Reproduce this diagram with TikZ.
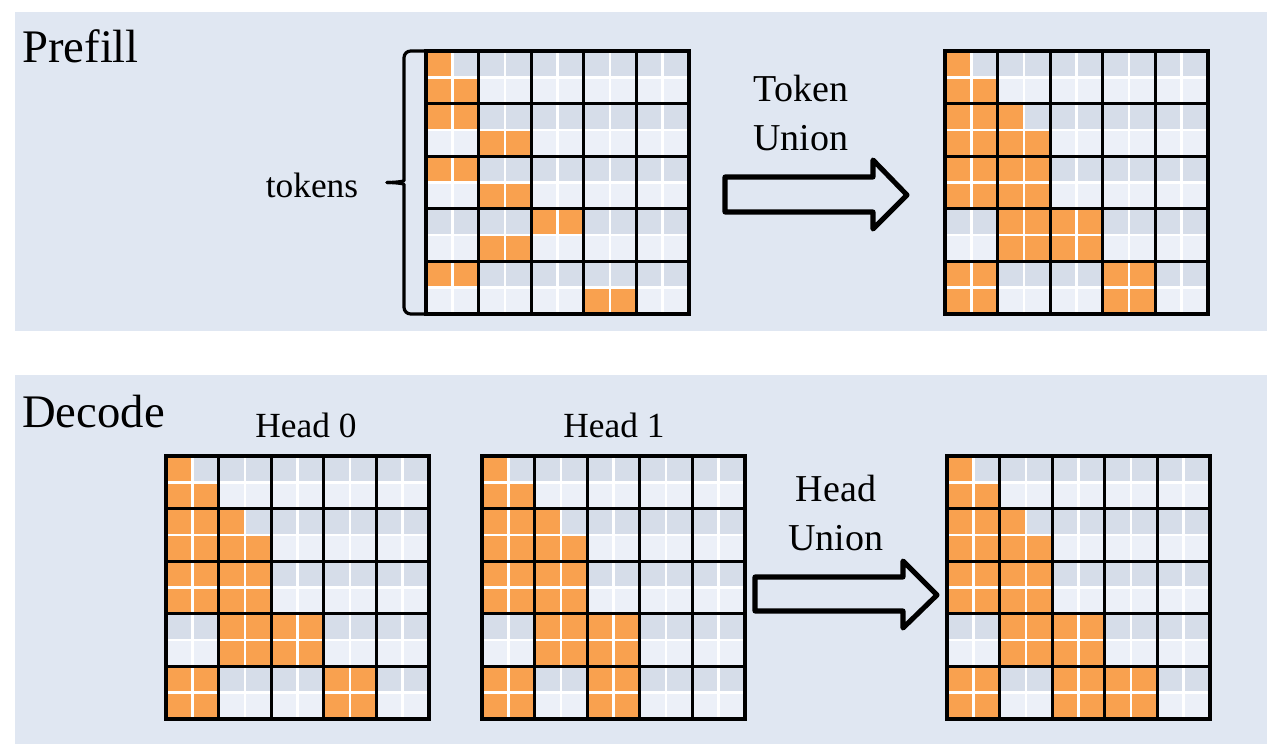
\documentclass[tikz,border=0pt]{standalone}
\usepackage{fontspec}
\setmainfont{Liberation Serif}
\definecolor{panelbg}{HTML}{E0E7F2}
\definecolor{celldark}{HTML}{D6DDE9}
\definecolor{celllight}{HTML}{ECF0F8}
\definecolor{cellorange}{HTML}{F9A14F}
\tikzset{
  wline/.style={white, line width=1.9pt},
  bline/.style={black, line width=2.3pt, line cap=rect},
  blockarrow/.style={draw=black, fill=panelbg, line width=3.8pt, line join=round},
  bigtitle/.style={inner sep=0pt, font=\fontsize{35}{42}\selectfont},
  unionlbl/.style={inner sep=0pt, align=center, font=\fontsize{28.5}{36.8}\selectfont},
  smalllbl/.style={inner sep=0pt, font=\fontsize{26.5}{32}\selectfont},
}
\newcommand\attgrid[4]{%
  \begin{scope}[shift={(#2,#3)}]
    \foreach \r in {0,2,4,6,8} {\fill[celldark] (0,\r*26.3) rectangle (263,\r*26.3+26.3);}
    \foreach \r in {1,3,5,7,9} {\fill[celllight] (0,\r*26.3) rectangle (263,\r*26.3+26.3);}
    \foreach \r/\a/\b in {#4} {\fill[cellorange] ({\a*26.3},{\r*26.3}) rectangle ({(\b+1)*26.3},{(\r+1)*26.3});}
    \foreach \i in {1,3,5,7,9} {\draw[wline] (\i*26.3,0) -- (\i*26.3,263); \draw[wline] (0,\i*26.3) -- (263,\i*26.3);}
    \foreach \i in {2,4,6,8} {\draw[bline] (\i*26.3,0) -- (\i*26.3,263); \draw[bline] (0,\i*26.3) -- (263,\i*26.3);}
    \draw[bline] (0,0) rectangle (263,263);
    \node[inner sep=0pt, minimum size=197.25pt] (#1) at (131.5,131.5) {};
  \end{scope}}
\begin{document}
\begin{tikzpicture}[x=0.75pt, y=-0.75pt]
\useasboundingbox (0,0) rectangle (1284,756);
\fill[white] (0,0) rectangle (1284,756);
% panels
\fill[panelbg] (15,12) rectangle (1267,331);
\fill[panelbg] (15,375) rectangle (1267,744);
% titles
\node[bigtitle, anchor=base west] (prefill) at (22,63) {Prefill};
\node[bigtitle, anchor=base west] (decode) at (22,427) {Decode};
% prefill grids
\attgrid{preA}{426}{51}{0/0/0, 1/0/1, 2/0/1, 3/2/3, 4/0/1, 5/2/3, 6/4/5, 7/2/3, 8/0/1, 9/6/7}
\attgrid{preB}{945}{51}{0/0/0, 1/0/1, 2/0/2, 3/0/3, 4/0/3, 5/0/3, 6/2/5, 7/2/5, 8/0/1, 8/6/7, 9/0/1, 9/6/7}
% brace
\draw[line width=2.4pt, line cap=round, line join=round, rounded corners=5pt]
  (425,51) -- (404,51) -- (404,174) to[out=-90,in=0] (387,182.5);
\draw[line width=2.4pt, line cap=round, line join=round, rounded corners=5pt]
  (387,182.5) to[out=0,in=90] (404,191) -- (404,314) -- (425,314);
\node[smalllbl, anchor=base] (tokens) at (312,197) {tokens};
% token union arrow
\draw[blockarrow] (725,177) -- (873,177) -- (873,160) -- (907,195) -- (873,229) -- (873,212) -- (725,212) -- cycle;
\node[unionlbl] (tokunion) at (801,113) {Token\\Union};
% decode grids
\attgrid{headA}{166}{456}{0/0/0, 1/0/1, 2/0/2, 3/0/3, 4/0/3, 5/0/3, 6/2/5, 7/2/5, 8/0/1, 8/6/7, 9/0/1, 9/6/7}
\attgrid{headB}{482}{456}{0/0/0, 1/0/1, 2/0/2, 3/0/3, 4/0/3, 5/0/3, 6/2/5, 7/2/5, 8/0/1, 8/4/5, 9/0/1, 9/4/5}
\attgrid{decU}{947}{456}{0/0/0, 1/0/1, 2/0/2, 3/0/3, 4/0/3, 5/0/3, 6/2/5, 7/2/5, 8/0/1, 8/4/7, 9/0/1, 9/4/7}
\node[smalllbl, anchor=base] (h0) at (306,437) {Head 0};
\node[smalllbl, anchor=base] (h1) at (614,437) {Head 1};
% head union arrow
\draw[blockarrow] (755,577) -- (903,577) -- (903,561) -- (937,595) -- (903,628) -- (903,611) -- (755,611) -- cycle;
\node[unionlbl] (headunion) at (836,513) {Head\\Union};
\end{tikzpicture}
\end{document}
